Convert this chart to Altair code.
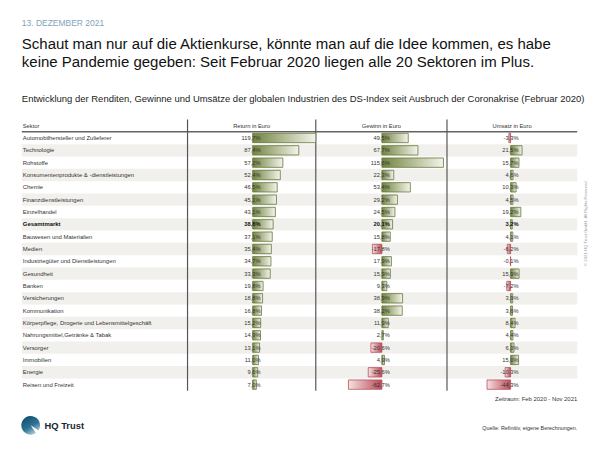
import altair as alt
import pandas as pd

# ---------------- data ----------------
sectors = [
    "Automobilhersteller und Zulieferer",
    "Technologie",
    "Rohstoffe",
    "Konsumentenprodukte & -dienstleistungen",
    "Chemie",
    "Finanzdienstleistungen",
    "Einzelhandel",
    "Gesamtmarkt",
    "Bauwesen und Materialien",
    "Medien",
    "Industriegüter und Dienstleistungen",
    "Gesundheit",
    "Banken",
    "Versicherungen",
    "Kommunikation",
    "Körperpflege, Drogerie und Lebensmittelgeschäft",
    "Nahrungsmittel,Getränke & Tabak",
    "Versorger",
    "Immobilien",
    "Energie",
    "Reisen und Freizeit",
]
returns = [119.7, 87.4, 57.2, 52.4, 46.5, 45.1, 43.1, 38.8, 37.1, 35.4, 34.7,
           33.3, 19.8, 18.8, 16.8, 15.2, 14.9, 13.1, 11.0, 9.6, 7.0]
gewinn = [49.5, 67.7, 115.6, 22.3, 53.4, 29.2, 24.5, 20.1, 15.8, -17.8, 17.9,
          15.9, 9.3, 38.9, 38.2, 11.9, 2.7, -20.6, 4.9, -25.6, -62.7]
umsatz = [-3.3, 21.5, 15.7, 4.6, 10.3, 4.5, 19.2, 3.2, 4.1, -6.2, -0.1,
          15.9, -7.2, 3.9, 3.6, 8.4, 4.4, 6.3, 15.0, -10.3, -44.3]
bold_sector = "Gesamtmarkt"
metrics = ["Return", "Gewinn", "Umsatz"]

date_text = "13. DEZEMBER 2021"
title_1 = "Schaut man nur auf die Aktienkurse, könnte man auf die Idee kommen, es habe"
title_2 = "keine Pandemie gegeben: Seit Februar 2020 liegen alle 20 Sektoren im Plus."
subtitle = ("Entwicklung der Renditen, Gewinne und Umsätze der globalen Industrien "
            "des DS-Index seit Ausbruch der Coronakrise (Februar 2020)")
col_headers = ["Sektor", "Return in Euro", "Gewinn in Euro", "Umsatz in Euro"]
period_text = "Zeitraum: Feb 2020 - Nov 2021"
source_text = "Quelle: Refinitiv, eigene Berechnungen."
brand_text = "HQ Trust"
copyright_text = "© 2021 HQ Trust GmbH. All Rights Reserved."

# ---------------- tables ----------------
rows = pd.DataFrame({"sector": sectors, "idx": range(len(sectors)),
                     "Return": returns, "Gewinn": gewinn, "Umsatz": umsatz})
rows["bold"] = rows["sector"] == bold_sector
rows["shade"] = rows["idx"] % 2 == 1


def fmt(v):
    return f"{v:.1f}".replace(".", ",") + "%"


long = rows.melt(id_vars=["sector", "idx", "bold"], value_vars=metrics,
                 var_name="metric", value_name="value")
long["label"] = long["value"].map(fmt)
long["zero"] = 0.0

one = pd.DataFrame({"t": [""]})

FONT = "Liberation Sans"
TXT = "#333333"

HEADER = " "
yscale = alt.Scale(type="band", domain=[HEADER] + sectors, range=[110, 385],
                   paddingInner=0, paddingOuter=0)
Y = alt.Y("sector:N", scale=yscale, axis=None)

# column geometry (pixel zero position and pixels per percent)
col_zero = {"Return": 248.0, "Gewinn": 379.0, "Umsatz": 509.5}
col_k = {"Return": 0.535, "Gewinn": 0.54, "Umsatz": 0.54}
col_center = {"Return": 247, "Gewinn": 378.5, "Umsatz": 511}

green_grad = {"gradient": "linear", "x1": 0, "x2": 1, "y1": 0, "y2": 0,
              "stops": [{"offset": 0, "color": "#728340"},
                        {"offset": 1, "color": "#f2f4ea"}]}
red_grad = {"gradient": "linear", "x1": 0, "x2": 1, "y1": 0, "y2": 0,
            "stops": [{"offset": 0, "color": "#f6e0e1"},
                      {"offset": 1, "color": "#b84c58"}]}
logo_grad = {"gradient": "linear", "x1": 0.2, "x2": 0.8, "y1": 0, "y2": 1,
             "stops": [{"offset": 0, "color": "#0d4d6b"},
                       {"offset": 0.55, "color": "#2f7394"},
                       {"offset": 1, "color": "#c9dde8"}]}

layers = []

# row shading
layers.append(
    alt.Chart(rows).transform_filter("datum.shade")
    .mark_rect(color="#f2f0ec")
    .encode(x=alt.value(14), x2=alt.value(577), y=Y)
)

# header line
layers.append(
    alt.Chart(one).mark_rule(color="#111111", strokeWidth=1)
    .encode(x=alt.value(14), x2=alt.value(577), y=alt.value(122.5))
)

# column separators
for sx in (182, 312, 445):
    layers.append(
        alt.Chart(one).mark_rule(color="#555555", strokeWidth=1.2)
        .encode(x=alt.value(sx), y=alt.value(110), y2=alt.value(385))
    )

# headers
layers.append(
    alt.Chart(pd.DataFrame({"t": [col_headers[0]]}))
    .mark_text(align="left", baseline="middle", fontSize=5.8, color=TXT)
    .encode(x=alt.value(15), y=alt.value(116.3), text="t:N")
)
for m, h in zip(metrics, col_headers[1:]):
    layers.append(
        alt.Chart(pd.DataFrame({"t": [h]}))
        .mark_text(align="center", baseline="middle", fontSize=5.8, color=TXT)
        .encode(x=alt.value(col_center[m]), y=alt.value(116.3), text="t:N")
    )

# sector labels
layers.append(
    alt.Chart(rows).transform_filter("!datum.bold")
    .mark_text(align="left", baseline="middle", fontSize=6.0, color=TXT)
    .encode(x=alt.value(15), y=Y, text="sector:N")
)
layers.append(
    alt.Chart(rows).transform_filter("datum.bold")
    .mark_text(align="left", baseline="middle", fontSize=6.0, color="#111111",
               fontWeight="bold")
    .encode(x=alt.value(15), y=Y, text="sector:N")
)

# bars and value labels per metric
for m in metrics:
    z, k = col_zero[m], col_k[m]
    sc = alt.Scale(domain=[0, 100], range=[z, z + 100 * k], zero=False, nice=False)
    X = alt.X("value:Q", scale=sc, axis=None)
    XZ = alt.X("zero:Q", scale=sc, axis=None)
    base = alt.Chart(long).transform_filter(alt.datum.metric == m)
    layers.append(
        base.transform_filter("datum.value >= 0")
        .mark_bar(fill=green_grad, stroke="#66773a", strokeWidth=0.8, height=9.5)
        .encode(x=X, x2=alt.X2("zero"), y=Y)
    )
    layers.append(
        base.transform_filter("datum.value < 0")
        .mark_bar(fill=red_grad, stroke="#b8505c", strokeWidth=0.8, height=9.5)
        .encode(x=X, x2=alt.X2("zero"), y=Y)
    )
    layers.append(
        base.transform_filter("!datum.bold")
        .mark_text(align="right", baseline="middle", dx=8, fontSize=5.8, color=TXT)
        .encode(x=XZ, y=Y, text="label:N")
    )
    layers.append(
        base.transform_filter("datum.bold")
        .mark_text(align="right", baseline="middle", dx=8, fontSize=5.8,
                   color="#111111", fontWeight="bold")
        .encode(x=XZ, y=Y, text="label:N")
    )

# titles
layers.append(
    alt.Chart(pd.DataFrame({"t": [date_text]}))
    .mark_text(align="left", baseline="middle", fontSize=8.6, color="#7fa4bb")
    .encode(x=alt.value(14), y=alt.value(12), text="t:N")
)
layers.append(
    alt.Chart(pd.DataFrame({"t": [title_1]}))
    .mark_text(align="left", baseline="middle", fontSize=15.2, color="#111111")
    .encode(x=alt.value(14), y=alt.value(34), text="t:N")
)
layers.append(
    alt.Chart(pd.DataFrame({"t": [title_2]}))
    .mark_text(align="left", baseline="middle", fontSize=15.2, color="#111111")
    .encode(x=alt.value(14), y=alt.value(52), text="t:N")
)
layers.append(
    alt.Chart(pd.DataFrame({"t": [subtitle]}))
    .mark_text(align="left", baseline="middle", fontSize=9.6, color="#222222")
    .encode(x=alt.value(14), y=alt.value(89), text="t:N")
)

# footer
layers.append(
    alt.Chart(pd.DataFrame({"t": [period_text]}))
    .mark_text(align="right", baseline="middle", fontSize=6.0, color=TXT)
    .encode(x=alt.value(577), y=alt.value(393), text="t:N")
)
layers.append(
    alt.Chart(pd.DataFrame({"t": [source_text]}))
    .mark_text(align="right", baseline="middle", fontSize=5.5, color=TXT)
    .encode(x=alt.value(577), y=alt.value(423), text="t:N")
)
layers.append(
    alt.Chart(one)
    .mark_arc(fill=logo_grad, outerRadius=9.5, innerRadius=0,
              theta=2.55, theta2=8.45)
    .encode(x=alt.value(23), y=alt.value(420))
)
layers.append(
    alt.Chart(pd.DataFrame({"t": [brand_text]}))
    .mark_text(align="left", baseline="middle", fontSize=9.5, fontWeight="bold",
               color="#1c2633")
    .encode(x=alt.value(37), y=alt.value(421), text="t:N")
)
layers.append(
    alt.Chart(pd.DataFrame({"t": [copyright_text]}))
    .mark_text(align="center", baseline="middle", fontSize=4.3, angle=270,
               color="#9a9a9a")
    .encode(x=alt.value(586), y=alt.value(215), text="t:N")
)

chart = (
    alt.layer(*layers)
    .resolve_scale(x="independent")
    .properties(width=592, height=442, padding=0,
                autosize=alt.AutoSizeParams(type="none"))
    .configure(font=FONT)
    .configure_view(strokeWidth=0)
)

chart.save("out.html", embed_options={"renderer": "svg", "actions": False})
